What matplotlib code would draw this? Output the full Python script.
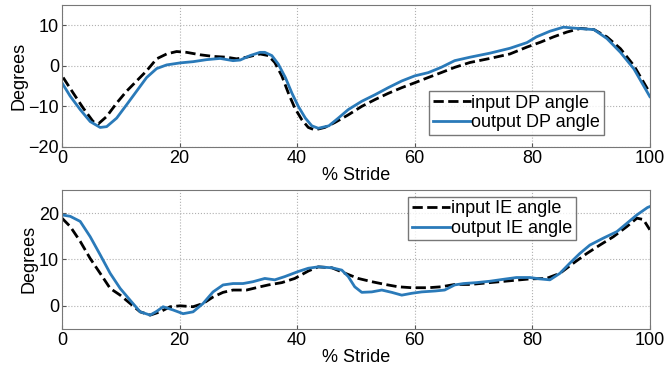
import matplotlib
matplotlib.use("Agg")
import matplotlib.pyplot as plt

plt.rcParams['font.family'] = ['Liberation Sans', 'DejaVu Sans']

# DP angle (top panel)
dp_x_in = [0.2, 1.9, 3.6, 5.3, 6.2, 7.6, 9.3, 11, 12.7, 14.4, 16.1, 17.8, 19.5, 21.2, 23.5, 25.7, 28, 29.7, 31.4,
           33.7, 35.1, 36.2, 37.4, 38.5, 39.6, 40.8, 41.9, 43, 44.7, 46.4, 48.7, 51, 53.3, 55.5, 57.8, 60, 62.3,
           64.5, 66.8, 69.4, 72.8, 76.2, 79.1, 81.4, 83.6, 85.9, 88.2, 90.5, 92.7, 95, 97.3, 100]
dp_in = [-2.9, -6.7, -10.4, -13.75, -14.3, -12.5, -9.2, -6.25, -3.75, -1.25, 1.7, 2.9, 3.5, 3.3, 2.7, 2.3, 2.1, 1.7,
         2.1, 2.9, 2.5, 0.8, -2.5, -6.7, -10.4, -13.3, -15.2, -15.8, -15.2, -14, -12.1, -10, -8.3, -6.8, -5.4, -4.2,
         -2.9, -1.7, -0.4, 0.8, 1.8, 2.9, 4.6, 5.8, 7.1, 8.3, 9.2, 8.9, 7.1, 4.2, 0, -6.7]
dp_x_out = [0, 1.4, 3.1, 4.8, 6.5, 7.6, 9.3, 11, 12.7, 14.4, 16.1, 17.8, 20.1, 22.3, 24.6, 26.9, 29.1, 30.3, 32,
            33.7, 34.5, 35.7, 36.8, 38, 39.1, 40.2, 41.4, 42.5, 43.6, 45.4, 47, 48.7, 51, 53.3, 55.5, 57.8, 60,
            62.3, 64.5, 66.8, 69.4, 72.8, 76.2, 79.1, 80.7, 83, 85.3, 87.6, 90.5, 92.7, 95, 97.3, 100]
dp_out = [-4.2, -7.5, -10.8, -13.75, -15.2, -15, -12.9, -9.6, -6.25, -2.9, -0.7, 0.2, 0.7, 1, 1.5, 1.8, 1.25, 1.4, 2.5,
          3.3, 3.3, 2.5, 0.4, -2.9, -6.7, -10, -12.9, -14.8, -15.4, -14.8, -12.9, -10.8, -8.75, -7.1, -5.4, -3.75, -2.5,
          -1.7, -0.4, 1.25, 2.1, 3.1, 4.3, 5.7, 7.1, 8.5, 9.5, 9.2, 8.9, 6.7, 3.3, -0.8, -7.6]

# IE angle (bottom panel)
ie_x_in = [0, 1.4, 3.1, 4.8, 6.5, 8.2, 9.9, 11.6, 13.3, 15, 16.7, 18.4, 20.1, 22.3, 24, 25.7, 27.4, 29.1, 31.4, 33.7,
           35.1, 37.4, 39.6, 41.9, 43.6, 45.9, 48.2, 50.4, 52.7, 55, 57.2, 59.5, 62.3, 64.5, 66.8, 69.4, 72.8, 76.2,
           79.6, 82.4, 84.7, 87, 89.3, 91.5, 93.8, 96.1, 97.8, 98.9, 100]
ie_in = [18.9, 17.1, 13.9, 10.2, 7, 3.75, 2.3, 0.5, -1.3, -2, -1.3, -0.2, 0, -0.2, 0.5, 1.9, 2.9, 3.4, 3.4, 4.1,
         4.5, 5, 5.9, 7.5, 8.4, 8.2, 7, 5.9, 5.2, 4.6, 4.1, 3.9, 3.9, 4.1, 4.6, 4.6, 5, 5.4,
         5.8, 5.9, 7, 9.2, 11.3, 13.1, 14.9, 17.1, 18.9, 18.6, 16.4]
ie_x_out = [0, 1.4, 3.1, 4.8, 6.5, 8.2, 9.9, 11.6, 13.3, 15, 16.1, 17.2, 18.9, 20.6, 22.3, 24, 25.7, 27.4, 29.1, 30.8,
            32.5, 34.5, 36.2, 37.9, 40.2, 41.9, 43.6, 45.9, 47.6, 48.7, 49.8, 51, 52.7, 54.4, 56.1, 57.8, 59.5, 61.2,
            63.5, 65.1, 66.8, 68.3, 70.5, 72.8, 75, 77.3, 79.6, 81.3, 83, 84.7, 86.4, 88.1, 89.8, 92.1, 94.4, 96.1,
            97.8, 99.6, 100]
ie_out = [19.6, 19.3, 18.2, 14.9, 11, 7, 3.75, 1.2, -1.3, -2, -1.2, -0.2, -0.9, -1.7, -1.3, 0.5, 3, 4.5, 4.8, 4.8,
          5.2, 5.9, 5.6, 6.3, 7.4, 8.1, 8.4, 8.2, 7.7, 6.3, 4.1, 2.9, 3, 3.4, 2.9, 2.3, 2.7, 3,
          3.2, 3.4, 4.5, 4.8, 5, 5.3, 5.7, 6.1, 6.1, 5.8, 5.6, 7, 9.2, 11.3, 13.1, 14.6, 16, 17.8,
          19.6, 21.2, 21.4]

blue = '#2a7ab9'

fig = plt.figure(figsize=(6.65, 3.72), dpi=100)
ax1 = fig.add_axes([0.0932, 0.605, 0.884, 0.382])
ax2 = fig.add_axes([0.0932, 0.1156, 0.884, 0.374])

ax1.plot(dp_x_in, dp_in, color='black', ls='--', lw=2, label='input DP angle')
ax1.plot(dp_x_out, dp_out, color=blue, lw=2, label='output DP angle')
ax1.set_ylim(-20, 15)
ax1.set_yticks([-20, -10, 0, 10])

ax2.plot(ie_x_in, ie_in, color='black', ls='--', lw=2, label='input IE angle')
ax2.plot(ie_x_out, ie_out, color=blue, lw=2, label='output IE angle')
ax2.set_ylim(-5, 25)
ax2.set_yticks([0, 10, 20])

for ax in (ax1, ax2):
    ax.set_xlim(0, 100)
    ax.set_xticks([0, 20, 40, 60, 80, 100])
    ax.grid(True, ls=':', color='#b0b0b0', lw=0.8)
    ax.tick_params(direction='in', labelsize=13, length=3, color='#555555', pad=2)
    for s in ax.spines.values():
        s.set_color('#777777')
    ax.set_xlabel('% Stride', fontsize=13, labelpad=0)
    ax.set_ylabel('Degrees', fontsize=13, labelpad=1)

ax1.legend(loc='lower right', fontsize=13, fancybox=False, edgecolor='#555555',
           handlelength=2.1, handletextpad=0.05, borderpad=0.2, labelspacing=0.15,
           borderaxespad=0, bbox_to_anchor=(0.922, 0.085))
ax2.legend(loc='upper right', fontsize=13, fancybox=False, edgecolor='#555555',
           handlelength=2.1, handletextpad=0.05, borderpad=0.2, labelspacing=0.15,
           borderaxespad=0, bbox_to_anchor=(0.874, 0.952))

fig.savefig('out.png', dpi=100)
